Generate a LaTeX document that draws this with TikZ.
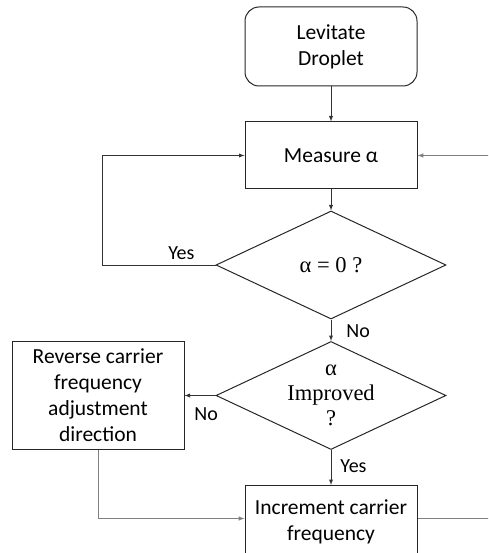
\documentclass[tikz,border=0pt]{standalone}
\usepackage{fontspec}
\setmainfont{Carlito}
\newfontfamily\mathlike{Liberation Serif}
\usetikzlibrary{positioning, shapes.geometric}

\tikzset{
  stepbox/.style={draw=black!85, line width=1pt, minimum width=172pt, minimum height=67pt, align=center, inner sep=2pt},
  startbox/.style={stepbox, rounded corners=14pt, minimum height=79pt},
  decision/.style={draw=black!85, diamond, line width=1pt, aspect=2.13, minimum width=230pt, minimum height=108pt, inner sep=-6pt, align=center, font=\mathlike\fontsize{22.5}{25}\selectfont},
  flow/.style={draw=black!80, line width=0.9pt, ->, >=latex},
  softflow/.style={draw=black!50, line width=1pt, ->, >=latex},
  answer/.style={font=\fontsize{20}{24}\selectfont, inner sep=0pt}
}

\begin{document}
\begin{tikzpicture}[font=\fontsize{21.5}{26}\selectfont]
\useasboundingbox (0pt,0pt) rectangle (488pt,-553pt);
\clip (0pt,0pt) rectangle (488pt,-553pt);

\node[startbox] (lev) at (331pt,-46.5pt) {Levitate\\Droplet};
\node[stepbox] (meas) [below of=lev, node distance=109pt] {Measure α};
\node[decision] (zero) [below of=meas, node distance=109.5pt] {α = 0 ?};
\node[decision] (impr) [below of=zero, node distance=130.5pt] {α\\Improved\\?};
\node[stepbox, minimum height=72pt] (inc) [below of=impr, node distance=126pt] {Increment carrier\\frequency};
\node[stepbox, minimum height=108pt] (rev) [left of=impr, node distance=233pt] {Reverse carrier\\frequency\\adjustment\\direction};
\coordinate (loopl) at (102pt,0pt);
\coordinate (loopr) at (496pt,0pt);

\draw[flow] (lev) -- (meas);
\draw[flow] (meas) -- (zero);
\draw[flow] (zero) -- node[answer, right=15pt, pos=0.55] {No} (impr);
\draw[flow] (impr) -- node[answer, right=9pt, pos=0.45] {Yes} (inc.north);
\draw[flow] (zero.west) -- node[answer, above=5pt, pos=0.3] {Yes} (zero.west -| loopl) |- (meas.west);
\draw[flow] (impr.west) -- node[answer, below=12pt, pos=0.3] {No} (rev.east);
\draw[softflow] (rev.south) |- ([yshift=3pt]inc.west);
\draw[softflow] ([yshift=3pt]inc.east) -- ([yshift=3pt]inc.east -| loopr) |- (meas.east);

\end{tikzpicture}
\end{document}
